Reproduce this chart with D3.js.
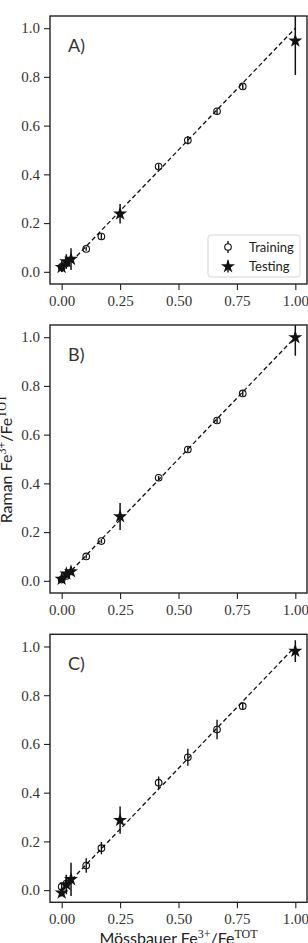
<!DOCTYPE html>
<html>
<head>
<meta charset="utf-8">
<script src="https://cdn.jsdelivr.net/npm/d3@7"></script>
<style>
  body { margin: 0; background: #fff; }
  svg { display: block; }
</style>
</head>
<body>
<script>
// Data
const panelLabels = ["A)", "B)", "C)"];
const ticksX = [0, 0.25, 0.5, 0.75, 1.0];
const ticksY = [0, 0.2, 0.4, 0.6, 0.8, 1.0];

const trainX = [0.0, 0.02, 0.105, 0.17, 0.415, 0.54, 0.665, 0.775];
const trainA = [0.02, 0.035, 0.094, 0.145, 0.432, 0.54, 0.659, 0.761];
const trainAErr = [0.01, 0.01, 0.008, 0.012, 0.01, 0.017, 0.012, 0.012];
const trainB = [0.005, 0.02, 0.1, 0.163, 0.423, 0.539, 0.658, 0.769];
const trainBErr = [0.008, 0.008, 0.008, 0.008, 0.008, 0.01, 0.01, 0.01];
const trainC = [0.014, 0.027, 0.101, 0.172, 0.441, 0.545, 0.659, 0.755];
const trainCErr = [0.015, 0.03, 0.03, 0.025, 0.025, 0.035, 0.04, 0.015];

const testX = [0.0, 0.02, 0.04, 0.25, 1.0];
const testA = [0.019, 0.042, 0.052, 0.238, 0.948];
const testAErr = [0.02, 0.03, 0.045, 0.04, 0.14];
const testB = [0.007, 0.029, 0.038, 0.264, 0.999];
const testBErr = [0.01, 0.015, 0.015, 0.055, 0.075];
const testC = [-0.011, 0.023, 0.044, 0.287, 0.981];
const testCErr = [0.015, 0.04, 0.068, 0.056, 0.045];

const panels = [
  { train: trainA, trainErr: trainAErr, test: testA, testErr: testAErr },
  { train: trainB, trainErr: trainBErr, test: testB, testErr: testBErr },
  { train: trainC, trainErr: trainCErr, test: testC, testErr: testCErr },
];

const width = 308;
const height = 943;
const left = 50, right = 307;
const panelTops = [16, 325, 634.3];
const panelH = 268;

const svg = d3.select("body").append("svg")
  .attr("width", width)
  .attr("height", height);

const x = d3.scaleLinear().domain([-0.05, 1.05]).range([left, right]);
const star = d3.symbol().type(d3.symbolStar).size(62);

panels.forEach((p, k) => {
  const top = panelTops[k];
  const y = d3.scaleLinear().domain([-0.05, 1.05]).range([top + panelH, top]);
  const g = svg.append("g");

  g.append("clipPath").attr("id", "clip" + k)
    .append("rect")
    .attr("x", left).attr("y", top)
    .attr("width", right - left).attr("height", panelH);

  const plot = g.append("g").attr("clip-path", `url(#clip${k})`);

  // 1:1 line
  plot.append("line")
    .attr("x1", x(0)).attr("y1", y(0))
    .attr("x2", x(1)).attr("y2", y(1))
    .attr("stroke", "#111")
    .attr("stroke-width", 1.3)
    .attr("stroke-dasharray", "4.5,2.8");

  // training: error bars + open circles
  const tr = trainX.map((v, i) => ({ x: v, y: p.train[i], e: p.trainErr[i] }));
  plot.selectAll(".trErr").data(tr).join("line")
    .attr("x1", d => x(d.x)).attr("x2", d => x(d.x))
    .attr("y1", d => y(d.y - d.e)).attr("y2", d => y(d.y + d.e))
    .attr("stroke", "#111").attr("stroke-width", 1.4);
  plot.selectAll(".trPt").data(tr).join("circle")
    .attr("cx", d => x(d.x)).attr("cy", d => y(d.y))
    .attr("r", 3.3)
    .attr("fill", "none")
    .attr("stroke", "#111").attr("stroke-width", 1.1);

  // testing: error bars + stars
  const te = testX.map((v, i) => ({ x: v, y: p.test[i], e: p.testErr[i] }));
  plot.selectAll(".teErr").data(te).join("line")
    .attr("x1", d => x(d.x)).attr("x2", d => x(d.x))
    .attr("y1", d => y(d.y - d.e)).attr("y2", d => y(d.y + d.e))
    .attr("stroke", "#111").attr("stroke-width", 1.5);
  plot.selectAll(".tePt").data(te).join("path")
    .attr("d", star)
    .attr("transform", d => `translate(${x(d.x)},${y(d.y)})`)
    .attr("fill", "#111");

  // axes
  const ax = g.append("g")
    .attr("transform", `translate(0,${top + panelH})`)
    .call(d3.axisBottom(x).tickValues(ticksX).tickFormat(d3.format(".2f")).tickSizeOuter(0).tickPadding(5));
  const ay = g.append("g")
    .attr("transform", `translate(${left},0)`)
    .call(d3.axisLeft(y).tickValues(ticksY).tickFormat(d3.format(".1f")).tickSizeOuter(0).tickPadding(4));
  [ax, ay].forEach(a => {
    a.select(".domain").remove();
    a.selectAll(".tick line").attr("stroke", "#222").attr("stroke-width", 1.1);
    a.selectAll(".tick text")
      .attr("fill", "#333")
      .style("font-family", "'Liberation Serif', serif")
      .style("font-size", "15px");
  });

  // frame
  g.append("rect")
    .attr("x", left).attr("y", top)
    .attr("width", right - left).attr("height", panelH)
    .attr("fill", "none")
    .attr("stroke", "#222").attr("stroke-width", 1.4);

  // panel label
  g.append("text")
    .attr("x", 68).attr("y", top + 36)
    .attr("fill", "#333")
    .style("font-family", "Lato, sans-serif")
    .style("font-size", "18px")
    .text(panelLabels[k]);

  // legend in first panel
  if (k === 0) {
    const lg = g.append("g");
    lg.append("rect")
      .attr("x", 208).attr("y", 235)
      .attr("width", 92).attr("height", 42)
      .attr("rx", 3)
      .attr("fill", "#fff").attr("fill-opacity", 0.8)
      .attr("stroke", "#d5d5d5").attr("stroke-width", 1);
    const items = [
      { label: "Training", yy: 247 },
      { label: "Testing", yy: 266.5 },
    ];
    items.forEach((it, i) => {
      lg.append("line")
        .attr("x1", 228).attr("x2", 228)
        .attr("y1", it.yy - 6).attr("y2", it.yy + 6)
        .attr("stroke", "#111").attr("stroke-width", 1.4);
      if (i === 0) {
        lg.append("circle").attr("cx", 228).attr("cy", it.yy).attr("r", 3.3)
          .attr("fill", "#fff").attr("stroke", "#111").attr("stroke-width", 1.1);
      } else {
        lg.append("path").attr("d", star).attr("transform", `translate(228,${it.yy})`).attr("fill", "#111");
      }
      lg.append("text")
        .attr("x", 249).attr("y", it.yy + 4.5)
        .attr("fill", "#222")
        .style("font-family", "Lato, sans-serif")
        .style("font-size", "13px")
        .text(it.label);
    });
  }
});

// axis titles
const xt = svg.append("text")
  .attr("x", (left + right) / 2).attr("y", 944)
  .attr("text-anchor", "middle")
  .attr("fill", "#222")
  .style("font-family", "Lato, sans-serif")
  .style("font-size", "16px");
xt.append("tspan").text("Mössbauer Fe");
xt.append("tspan").attr("dy", -6).style("font-family", "'Liberation Serif', serif").style("font-size", "12px").text("3+");
xt.append("tspan").attr("dy", 6).text("/Fe");
xt.append("tspan").attr("dy", -6).style("font-family", "'Liberation Serif', serif").style("font-size", "12px").text("TOT");

const yt = svg.append("text")
  .attr("transform", `translate(12,${(panelTops[1] + panelTops[1] + panelH) / 2}) rotate(-90)`)
  .attr("text-anchor", "middle")
  .attr("fill", "#222")
  .style("font-family", "Lato, sans-serif")
  .style("font-size", "16px");
yt.append("tspan").text("Raman Fe");
yt.append("tspan").attr("dy", -6).style("font-family", "'Liberation Serif', serif").style("font-size", "12px").text("3+");
yt.append("tspan").attr("dy", 6).text("/Fe");
yt.append("tspan").attr("dy", -6).style("font-family", "'Liberation Serif', serif").style("font-size", "12px").text("TOT");
</script>
</body>
</html>
